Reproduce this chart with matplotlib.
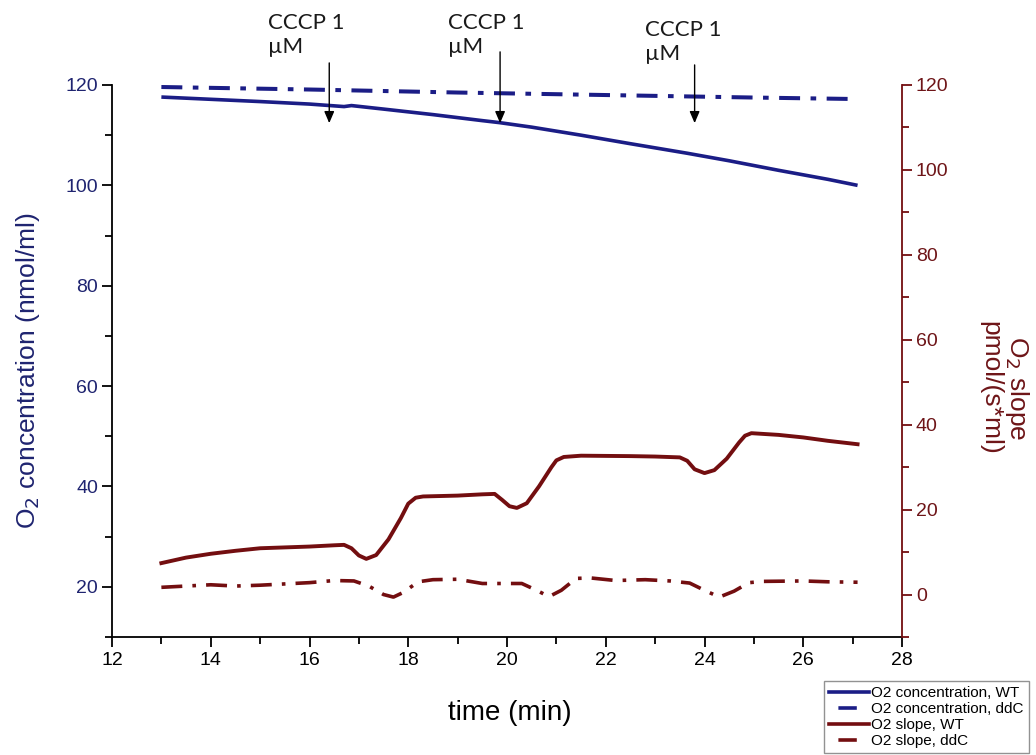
import matplotlib
matplotlib.use("Agg")
import matplotlib.pyplot as plt
from matplotlib.ticker import MultipleLocator
from matplotlib.lines import Line2D

plt.rcParams['font.family'] = ['Liberation Sans', 'DejaVu Sans']

# ---------------- data ----------------
t_conc_wt = [13.0, 14.0, 15.0, 16.0, 16.7, 16.85, 17.5, 18.5, 19.5, 19.85, 20.5,
             21.5, 22.5, 23.65, 24.5, 25.5, 26.5, 27.1]
conc_wt = [117.6, 117.15, 116.7, 116.2, 115.7, 115.9, 115.2, 114.1, 112.9, 112.5,
           111.6, 110.0, 108.3, 106.4, 104.9, 103.0, 101.2, 100.0]

t_conc_ddc = [13.0, 16.0, 19.0, 22.0, 25.0, 27.1]
conc_ddc = [119.6, 119.1, 118.5, 118.0, 117.5, 117.2]

t_slope_wt = [13.0, 13.5, 14.0, 14.5, 15.0, 15.5, 16.0, 16.5, 16.7, 16.85, 17.0,
              17.15, 17.35, 17.6, 17.85, 18.0, 18.15, 18.3, 19.0, 19.5, 19.75,
              19.9, 20.05, 20.2, 20.4, 20.65, 20.9, 21.0, 21.15, 21.5, 22.5,
              23.0, 23.5, 23.65, 23.8, 24.0, 24.2, 24.45, 24.7, 24.82, 24.95,
              25.5, 26.0, 26.5, 27.1]
slope_wt = [7.4, 8.7, 9.6, 10.3, 10.9, 11.1, 11.3, 11.6, 11.7, 10.9, 9.2,
            8.4, 9.3, 13.0, 18.0, 21.4, 22.8, 23.1, 23.3, 23.6, 23.7,
            22.3, 20.8, 20.4, 21.5, 25.5, 30.0, 31.6, 32.4, 32.7, 32.6,
            32.5, 32.3, 31.5, 29.5, 28.6, 29.3, 32.0, 35.8, 37.4, 38.0,
            37.6, 37.0, 36.2, 35.4]

t_slope_ddc = [13.0, 13.5, 14.0, 14.5, 15.0, 15.5, 16.0, 16.5, 16.9, 17.2, 17.5,
               17.7, 17.9, 18.2, 18.5, 19.0, 19.5, 20.0, 20.3, 20.6, 20.85,
               21.1, 21.4, 21.7, 22.2, 22.8, 23.3, 23.7, 24.0, 24.3, 24.6,
               24.9, 25.2, 26.0, 26.5, 27.1]
slope_ddc = [1.7, 2.0, 2.3, 2.0, 2.2, 2.5, 2.8, 3.3, 3.2, 2.0, 0.0,
             -0.6, 0.5, 3.0, 3.5, 3.6, 2.6, 2.6, 2.6, 1.0, -0.5,
             1.0, 3.8, 3.9, 3.3, 3.5, 3.2, 2.7, 1.0, -0.6, 0.8,
             2.8, 3.1, 3.2, 3.0, 2.9]

cccp_times = [16.4, 19.86, 23.8]
cccp_label = "CCCP 1\nµM"

legend_labels = ["O2 concentration, WT", "O2 concentration, ddC",
                 "O2 slope, WT", "O2 slope, ddC"]

# ---------------- style ----------------
BLUE = "#1b1d86"
BLUE_TXT = "#1f2470"
RED = "#730e10"
RED_TXT = "#6e1518"

W, H = 1036, 755
fig = plt.figure(figsize=(W / 100, H / 100), dpi=100)
ax = fig.add_axes([112 / W, 1 - 637 / H, 790 / W, 552 / H])
ax2 = ax.twinx()

ax.plot(t_conc_wt, conc_wt, color=BLUE, lw=2.6, solid_capstyle='butt',
        solid_joinstyle='round')
ax.plot(t_conc_ddc, conc_ddc, color=BLUE, lw=2.9,
        linestyle=(0, (5.2, 2.6, 1.4, 2.6)), dash_capstyle='butt')
ax2.plot(t_slope_wt, slope_wt, color=RED, lw=2.8, solid_joinstyle='round')
ax2.plot(t_slope_ddc, slope_ddc, color=RED, lw=2.6,
         linestyle=(0, (5.8, 2.8, 1.0, 2.8)), dash_capstyle='butt')

ax.set_xlim(12, 28)
ax.set_ylim(10, 120)
ax2.set_ylim(-10, 120)

ax.xaxis.set_major_locator(MultipleLocator(2))
ax.xaxis.set_minor_locator(MultipleLocator(1))
ax.yaxis.set_major_locator(MultipleLocator(20))
ax.yaxis.set_minor_locator(MultipleLocator(10))
ax2.yaxis.set_major_locator(MultipleLocator(20))
ax2.yaxis.set_minor_locator(MultipleLocator(10))

for a in (ax, ax2):
    a.spines['top'].set_visible(False)
    a.patch.set_visible(False)
ax.spines['right'].set_visible(False)
ax2.spines['left'].set_visible(False)
ax2.spines['bottom'].set_visible(False)
ax.spines['left'].set_linewidth(1.3)
ax.spines['bottom'].set_linewidth(1.3)
ax2.spines['right'].set_linewidth(1.3)
ax2.spines['right'].set_color(RED)

ax.tick_params(axis='x', which='major', direction='out', length=7, width=1.3,
               labelsize=14, pad=4, colors='black')
ax.tick_params(axis='x', which='minor', direction='out', length=5, width=1.3)
ax.tick_params(axis='y', which='major', direction='out', length=7, width=1.3,
               labelsize=14, pad=3, labelcolor=BLUE_TXT, color='black')
ax.tick_params(axis='y', which='minor', direction='out', length=5, width=1.3)
ax2.tick_params(axis='y', which='major', direction='out', length=7, width=1.3,
                labelsize=14, pad=3, labelcolor=RED_TXT, color=RED)
ax2.tick_params(axis='y', which='minor', direction='out', length=5, width=1.3,
                color=RED)

# axis labels
fig.text(510 / W, 1 - 713 / H, "time (min)", ha='center', va='center',
         fontsize=20, color='black')
fig.text(28 / W, 1 - 371 / H, "O$_2$ concentration (nmol/ml)", ha='center',
         va='center', rotation=90, fontsize=19, color=BLUE_TXT)
fig.text(1005 / W, 1 - 388 / H, "O$_2$ slope\npmol/(s*ml)", ha='center',
         va='center', rotation=270, fontsize=19, color=RED_TXT,
         linespacing=1.05)

# CCCP annotations
text_dx = [-1.24, -1.05, -1.0]
text_top = [134.3, 134.3, 132.9]
tail_y = [124.4, 126.6, 124.0]
tip_y = 112.4
for t, dx, ty, tl in zip(cccp_times, text_dx, text_top, tail_y):
    ax.text(t + dx, ty, cccp_label, ha='left', va='top', fontsize=16,
            family=['Lato', 'DejaVu Sans'], color='#1a1a1a', clip_on=False,
            linespacing=1.25)
    ax.annotate('', xy=(t, tip_y), xytext=(t, tl), annotation_clip=False,
                arrowprops=dict(arrowstyle='-|>,head_length=0.7,head_width=0.3',
                                lw=1.0, color='black', mutation_scale=10,
                                shrinkA=0, shrinkB=0))

# legend
handles = [
    Line2D([], [], color=BLUE, lw=2.6),
    Line2D([], [], color=BLUE, lw=2.6, linestyle=(12.5, (5.1, 10))),
    Line2D([], [], color=RED, lw=2.6),
    Line2D([], [], color=RED, lw=2.6, linestyle=(12.5, (5.1, 10))),
]
leg = fig.legend(handles, legend_labels, loc='upper left',
                 bbox_to_anchor=(824 / W, 1 - 681 / H), fontsize=11,
                 frameon=True, fancybox=False, edgecolor='#777777',
                 handlelength=2.6, handletextpad=0.15, labelspacing=0.12,
                 borderpad=0.35, borderaxespad=0)
leg.get_frame().set_linewidth(1.0)

fig.savefig("out.png", dpi=100)
